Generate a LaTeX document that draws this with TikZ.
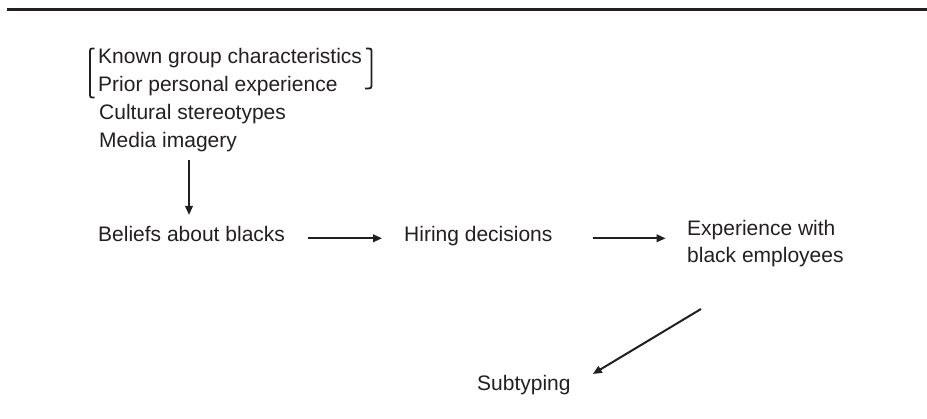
\documentclass[tikz,border=0pt]{standalone}
\usepackage{fontspec}
\setmainfont{Liberation Sans}
\usetikzlibrary{arrows.meta}
\definecolor{ink}{HTML}{231F20}
\tikzset{
  lbl/.style={anchor=base west, inner sep=0pt, text=ink, font=\fontsize{21}{27}\selectfont},
  arr/.style={draw=ink, line width=2pt, -{Triangle[length=9pt,width=7.5pt]}},
  brk/.style={draw=ink, line width=1.8pt},
}
\begin{document}
\begin{tikzpicture}[x=1pt,y=-1pt]
\useasboundingbox (0,0) rectangle (927,419);
% top rule
\coordinate (rl) at (7,9.7);
\coordinate (rr) at (927,9.7);
\draw[draw=ink, line width=2.8pt] (rl) -- (rr);
% source list
\node[lbl] (known) at (98,64) {Known group characteristics};
\node[lbl] (prior) at (98,92) {Prior personal experience};
\node[lbl] (cult) at (99,120) {Cultural stereotypes};
\node[lbl] (media) at (99,148) {Media imagery};
% brackets
\draw[brk] (94.5,48.5) .. controls (90,48.5) .. (90,53) -- (90,93) .. controls (90,97.5) .. (94.5,97.5);
\draw[brk] (366,48.5) .. controls (371.5,48.5) .. (371.5,53) -- (371.5,84) .. controls (371.5,88.5) .. (365,88.5);
% main row
\node[lbl] (beliefs) at (98,242) {Beliefs about blacks};
\node[lbl] (hiring) at (404,242) {Hiring decisions};
\node[lbl] (exp1) at (687,236) {Experience with};
\node[lbl] (exp2) at (687,263) {black employees};
\node[lbl] (sub) at (477,391) {Subtyping};
% arrows
\draw[arr] ([xshift=90pt,yshift=-12pt]media.base west) -- ([xshift=91pt,yshift=27pt]beliefs.base west);
\draw[arr] ([xshift=23pt,yshift=3.7pt]beliefs.base east) -- ([xshift=-22pt,yshift=3.7pt]hiring.base west);
\draw[arr] ([xshift=40pt,yshift=3.7pt]hiring.base east) -- ([xshift=113pt,yshift=3.7pt]hiring.base east);
\draw[arr] ([xshift=14pt,yshift=-46pt]exp2.base west) -- ([xshift=22pt,yshift=17pt]sub.base east);
\end{tikzpicture}
\end{document}
